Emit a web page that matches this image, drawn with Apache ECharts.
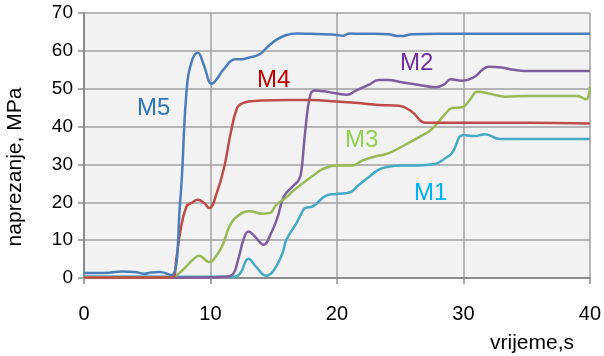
<!DOCTYPE html>
<html>
<head>
<meta charset="utf-8">
<script src="https://cdn.jsdelivr.net/npm/echarts@6/dist/echarts.min.js"></script>
<style>
  html, body { margin: 0; padding: 0; background: #fff; }
  #chart { width: 604px; height: 356px; }
</style>
</head>
<body>
<div id="chart"></div>
<script>
// Stress over time for five specimens (time in s, stress in MPa)
var seriesNames = ['M1', 'M2', 'M3', 'M4', 'M5'];

var timeM1 = [0, 5, 10, 12, 12.4, 13, 13.6, 14.4, 15, 15.7, 16, 16.8, 17.2, 17.5, 18.1, 19.1, 19.9, 21, 21.7, 22.5, 23.3, 24.1, 25, 25.9, 27.7, 28.6, 29.1, 30, 30.9, 31.7, 32.9, 35, 40];
var stressM1 = [0.4, 0.4, 0.3, 0.4, 1.5, 5.1, 3, 0.6, 2, 6.6, 10.1, 14.5, 17.1, 18.5, 18.9, 21.7, 22.2, 22.6, 24.5, 26.6, 28.6, 29.4, 29.7, 29.7, 30.1, 31.7, 33, 37.8, 37.5, 38, 36.7, 36.7, 36.7];

var timeM2 = [0, 5, 10, 11, 11.7, 12.2, 12.6, 13, 13.5, 14.2, 14.8, 15.3, 15.8, 16.5, 17.0, 17.2, 17.5, 17.9, 18.3, 19, 19.9, 20.8, 21.5, 22.5, 23.3, 24.1, 25, 26.5, 27.8, 28.5, 29, 29.9, 30.9, 31.5, 32, 33, 34, 34.9, 40];
var stressM2 = [0, 0, 0.2, 0.3, 0.8, 5, 10, 12.3, 11, 8.8, 11.9, 16, 21.5, 24.2, 26, 28.6, 39, 48.4, 49.5, 49.3, 48.8, 48.4, 49.5, 51, 52.3, 52.3, 51.8, 51, 50.4, 51.2, 52.5, 52.1, 53.2, 55, 55.8, 55.6, 55, 54.7, 54.7];

var timeM3 = [0, 6, 7, 7.5, 8.1, 8.6, 9.1, 9.9, 10.5, 11, 11.5, 12.2, 13.1, 14.1, 14.7, 15.2, 16, 16.5, 17.3, 18.1, 18.9, 19.9, 21.2, 22, 22.8, 24.1, 25.4, 26.5, 27.5, 28.6, 29.1, 29.9, 30.5, 31.1, 32.3, 33.3, 35.1, 39, 39.7, 40];
var stressM3 = [0.2, 0.2, 0.3, 1.2, 3.1, 4.8, 5.9, 4.2, 6, 9, 13.6, 16.5, 17.6, 17, 17.2, 19.3, 21.3, 22.9, 25, 27, 28.8, 29.7, 29.7, 31, 31.9, 33, 35.2, 37.2, 39.3, 43.5, 44.9, 45.1, 47, 49.2, 48.5, 47.9, 48.1, 48.1, 47.2, 50.5];

var timeM4 = [0, 6, 7, 7.3, 7.6, 8.1, 8.5, 9.0, 9.5, 9.9, 10.5, 11.1, 11.6, 12.1, 12.5, 13, 14, 16, 18, 19.9, 21.7, 23.3, 24.9, 25.9, 27, 28, 30, 35, 40];
var stressM4 = [0.1, 0.1, 0.2, 5, 12, 18.9, 19.8, 20.7, 19.8, 18.5, 22.5, 29.5, 38.3, 44.9, 46.1, 46.6, 46.9, 47, 47, 46.6, 46.2, 45.7, 45.5, 44, 41, 41, 41, 41, 40.8];

var timeM5 = [0, 1, 2, 3, 4, 4.8, 5.2, 6, 6.9, 7.6, 8.1, 8.5, 9.0, 9.5, 10.1, 10.6, 11, 12, 12.5, 13, 13.9, 14.5, 15.2, 16, 16.8, 18, 19, 20, 20.5, 21, 22, 23, 24, 25, 26, 28, 30, 35, 40];
var stressM5 = [1.3, 1.3, 1.4, 1.7, 1.6, 1.1, 1.4, 1.6, 0.7, 20, 49, 57, 59.5, 56, 51.3, 53, 55, 57.8, 57.8, 58.2, 59.1, 61, 62.9, 64.2, 64.6, 64.5, 64.4, 64.2, 64.0, 64.6, 64.5, 64.5, 64.4, 63.9, 64.4, 64.5, 64.5, 64.5, 64.5];

var xTicks = [0, 10, 20, 30, 40];
var yTicks = [0, 10, 20, 30, 40, 50, 60, 70];

var lineColors = {M1: '#46AAC5', M2: '#7D5FA0', M3: '#98B954', M4: '#BE4B48', M5: '#4A7EBB'};
var labelColors = {M1: '#00B0F0', M2: '#7030A0', M3: '#92D050', M4: '#C00000', M5: '#2E75B6'};

function pairs(ts, vs) {
  return ts.map(function (t, i) { return [t, vs[i]]; });
}

var seriesData = {
  M1: pairs(timeM1, stressM1),
  M2: pairs(timeM2, stressM2),
  M3: pairs(timeM3, stressM3),
  M4: pairs(timeM4, stressM4),
  M5: pairs(timeM5, stressM5)
};

var font = '"Liberation Sans", Arial, sans-serif';
var chart = echarts.init(document.getElementById('chart'));

chart.setOption({
  animation: false,
  backgroundColor: '#ffffff',
  grid: {
    left: 84, right: 13, top: 13, bottom: 78,
    show: true, backgroundColor: '#F2F2F2', borderWidth: 0
  },
  xAxis: {
    type: 'value', min: xTicks[0], max: xTicks[xTicks.length - 1], interval: 10,
    axisLine: { lineStyle: { color: '#8C8C8C', width: 2 } },
    axisTick: { show: true, length: 6, lineStyle: { color: '#8C8C8C', width: 1.5 } },
    splitLine: { show: true, lineStyle: { color: '#A0A0A0', width: 1.5 } },
    axisLabel: { color: '#000', fontSize: 20, fontFamily: font, margin: 26 }
  },
  yAxis: {
    type: 'value', min: yTicks[0], max: yTicks[yTicks.length - 1], interval: 10,
    axisLine: { show: true, lineStyle: { color: '#8C8C8C', width: 2 } },
    axisTick: { show: true, length: 6, lineStyle: { color: '#8C8C8C', width: 1.5 } },
    splitLine: { show: true, lineStyle: { color: '#A0A0A0', width: 1.5 } },
    axisLabel: { color: '#000', fontSize: 19, fontFamily: font, margin: 11 }
  },
  series: seriesNames.map(function (name) {
    return {
      name: name, type: 'line', data: seriesData[name],
      smooth: 0.45, showSymbol: false, symbol: 'none',
      lineStyle: { color: lineColors[name], width: 2.5 },
      z: name === 'M5' ? 3 : 2
    };
  }),
  graphic: [
    { type: 'text', left: 137, top: 96, style: { text: 'M5', fill: labelColors.M5, font: '24px ' + font } },
    { type: 'text', left: 257, top: 68, style: { text: 'M4', fill: labelColors.M4, font: '24px ' + font } },
    { type: 'text', left: 400, top: 51, style: { text: 'M2', fill: labelColors.M2, font: '24px ' + font } },
    { type: 'text', left: 345, top: 128, style: { text: 'M3', fill: labelColors.M3, font: '24px ' + font } },
    { type: 'text', left: 414, top: 181, style: { text: 'M1', fill: labelColors.M1, font: '24px ' + font } },
    { type: 'text', left: 490, top: 333, style: { text: 'vrijeme,s', fill: '#000', font: '21px ' + font } },
    {
      type: 'text', x: 15, y: 167, rotation: Math.PI / 2,
      style: { text: 'naprezanje, MPa', fill: '#000', font: '21px ' + font, align: 'center', verticalAlign: 'middle' }
    }
  ]
});
</script>
</body>
</html>
